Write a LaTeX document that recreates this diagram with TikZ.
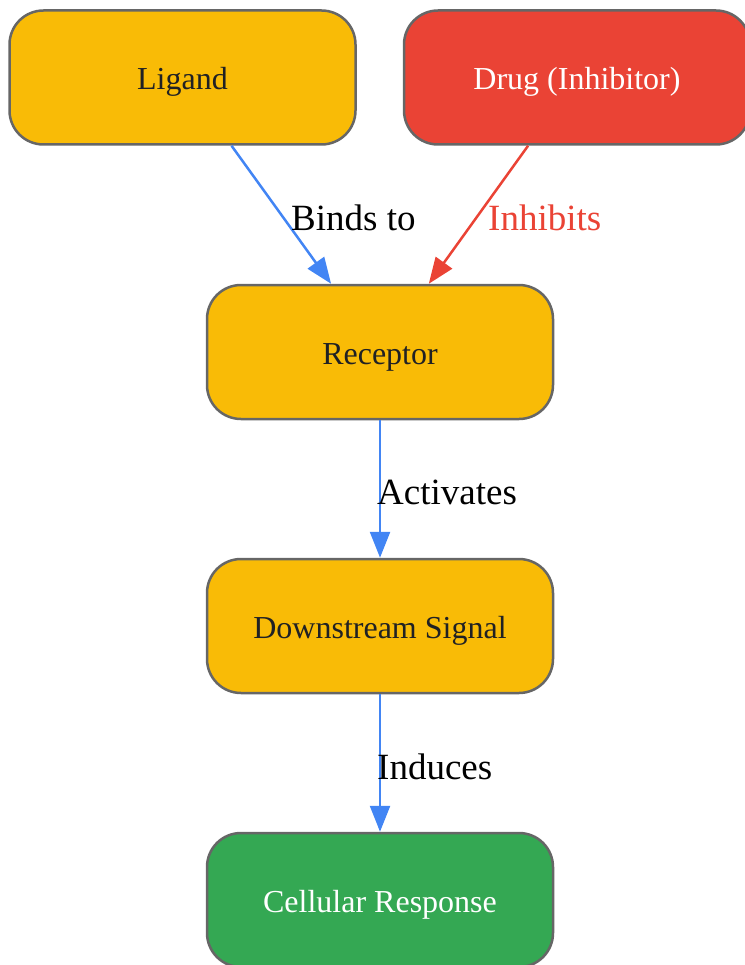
\documentclass[tikz,border=0pt]{standalone}
\usepackage{fontspec}
\setmainfont{Liberation Serif}
\usetikzlibrary{arrows.meta,positioning}
\definecolor{gyellow}{HTML}{F9BB06}
\definecolor{gred}{HTML}{EA4335}
\definecolor{ggreen}{HTML}{34A853}
\definecolor{gblue}{HTML}{4285F4}
\definecolor{edgegray}{HTML}{666666}
\definecolor{textdark}{HTML}{202124}
\tikzset{box/.style={
            draw=edgegray,
            fill=gyellow,
            text=textdark,
            line width=2.5pt,
            rounded corners=34pt,
            minimum width=346pt,
            minimum height=134pt,
            inner sep=0pt,
            text height=25pt,
            text depth=0pt,
            font=\fontsize{32}{38}\selectfont
        },
        drugbox/.style={
            box,
            fill=gred,
            text=white
        },
        finalbox/.style={
            box,
            fill=ggreen,
            text=white
        },
        link/.style={
            -{Triangle[length=26pt,width=20pt]},
            line width=2.5pt,
            draw=gblue
        },
        redlink/.style={
            link,
            draw=gred
        },
        tag/.style={
            anchor=west,
            inner sep=0pt,
            font=\fontsize{37}{43}\selectfont
        }
    }
\begin{document}
\begin{tikzpicture}[x=1pt,y=-1pt,line join=round]
\useasboundingbox (0,0) rectangle (744,965);
\node[box] (lig) at (182.5,77.5) {Ligand};
\node[drugbox] (drug) at (577,77.5) {Drug (Inhibitor)};
\node[box] (rec) at (380,352) {Receptor};
\node[box] (sig) at (380,626) {Downstream Signal};
\node[finalbox] (resp) at (380,900) {Cellular Response};
\draw[link] (lig) -- (rec);
\draw[redlink] (drug) -- (rec);
\draw[link] (rec) -- (sig);
\draw[link] (sig) -- (resp);
\node[tag] (bindtag) at (291,218) {Binds to};
\node[tag,text=gred] (inhtag) at (488,218) {Inhibits};
\node[tag] (acttag) at (377,492) {Activates};
\node[tag] (indtag) at (377,767) {Induces};
\end{tikzpicture}
\end{document}
